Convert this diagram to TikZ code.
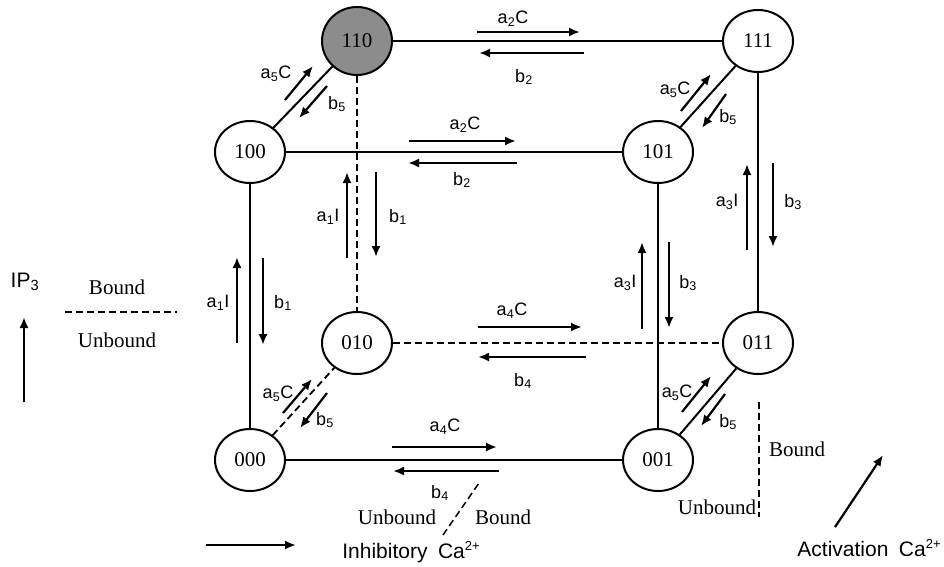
\documentclass[tikz,border=0pt]{standalone}
\usepackage{fontspec}
\setmainfont{Liberation Serif}
\newfontfamily\labfont{Liberation Sans}
\usetikzlibrary{arrows.meta,shapes.geometric}
\definecolor{stategray}{RGB}{140,140,140}
\newcommand\rl[3]{#1\textsubscript{#2}#3}
\newcommand\casup{Ca\raisebox{0.4em}{\fontsize{13}{14}\selectfont 2+}}
\tikzset{
  state/.style={ellipse,draw,line width=2pt,minimum width=70pt,minimum height=62pt,inner sep=0pt,font=\fontsize{21}{24}\selectfont},
  link/.style={line width=2pt},
  dlink/.style={line width=1.8pt,dash pattern=on 7pt off 4pt},
  rate/.style={line width=2.2pt,-{Latex[length=11pt,width=9pt]}},
  lab/.style={inner sep=0pt,font=\labfont\fontsize{18}{20}\selectfont},
  ser/.style={inner sep=0pt,font=\fontsize{21}{24}\selectfont},
  leg/.style={inner sep=0pt,font=\labfont\fontsize{21}{24}\selectfont},
}
\begin{document}
\begin{tikzpicture}[x=1pt,y=-1pt]
\useasboundingbox (0,0) rectangle (944,566);
% states
\node[state,fill=stategray,minimum height=68pt] (s110) at (357,41) {110};
\node[state] (s111) at (758,41) {111};
\node[state] (s100) at (250,152) {100};
\node[state] (s101) at (658,152) {101};
\node[state] (s010) at (357,343) {010};
\node[state] (s011) at (758,343) {011};
\node[state] (s000) at (250,460) {000};
\node[state] (s001) at (658,460) {001};
% edges
\draw[link] (s110) -- (s111);
\draw[link] (s100) -- (s101);
\draw[dlink] (s010) -- (s011);
\draw[link] (s000) -- (s001);
\draw[link] (s100) -- (s000);
\draw[dlink] (s110) -- (s010);
\draw[link] (s101) -- (s001);
\draw[link] (s111) -- (s011);
\draw[link] (s100) -- (s110);
\draw[link] (s101) -- (s111);
\draw[dlink] (s000) -- (s010);
\draw[link] (s001) -- (s011);
% rate arrows: horizontal
\draw[rate] (477,32) -- (580,32);
\draw[rate] (584,53) -- (479,53);
\draw[rate] (409,141) -- (516,141);
\draw[rate] (517,163) -- (408,163);
\draw[rate] (478,327) -- (582,327);
\draw[rate] (586,357) -- (478,357);
\draw[rate] (392,447) -- (497,447);
\draw[rate] (499,471) -- (393,471);
% vertical
\draw[rate] (237,343) -- (237,257);
\draw[rate] (263,258) -- (263,345);
\draw[rate] (347,258) -- (347,172);
\draw[rate] (376,172) -- (376,257);
\draw[rate] (642,329) -- (642,242);
\draw[rate] (669,242) -- (669,328);
\draw[rate] (747,250) -- (747,164);
\draw[rate] (773,163) -- (773,247);
% diagonal
\draw[rate] (285,100) -- (313,66);
\draw[rate] (327,86) -- (299,118);
\draw[rate] (681,111) -- (711,74);
\draw[rate] (726,94) -- (702,128);
\draw[rate] (283,413) -- (312,379);
\draw[rate] (327,393) -- (300,428);
\draw[rate] (682,412) -- (711,376);
\draw[rate] (725,394) -- (701,426);
% rate labels
\node[lab] (l1) at (513,19) {\rl{a}{2}{C}};
\node[lab] (l2) at (524,77) {\rl{b}{2}{}};
\node[lab] (l3) at (465,125) {\rl{a}{2}{C}};
\node[lab] (l4) at (462,180) {\rl{b}{2}{}};
\node[lab] (l5) at (512,311) {\rl{a}{4}{C}};
\node[lab] (l6) at (523,381) {\rl{b}{4}{}};
\node[lab] (l7) at (445,427) {\rl{a}{4}{C}};
\node[lab] (l8) at (440,493) {\rl{b}{4}{}};
\node[lab] (l9) at (218,303) {\rl{a}{1}{I}};
\node[lab] (l10) at (283,303) {\rl{b}{1}{}};
\node[lab] (l11) at (328,217) {\rl{a}{1}{I}};
\node[lab] (l12) at (398,217) {\rl{b}{1}{}};
\node[lab] (l13) at (625,283) {\rl{a}{3}{I}};
\node[lab] (l14) at (688,283) {\rl{b}{3}{}};
\node[lab] (l15) at (727,202) {\rl{a}{3}{I}};
\node[lab] (l16) at (793,202) {\rl{b}{3}{}};
\node[lab] (l17) at (276,74) {\rl{a}{5}{C}};
\node[lab] (l18) at (337,104) {\rl{b}{5}{}};
\node[lab] (l19) at (675,90) {\rl{a}{5}{C}};
\node[lab] (l20) at (728,117) {\rl{b}{5}{}};
\node[lab] (l21) at (278,394) {\rl{a}{5}{C}};
\node[lab] (l22) at (325,420) {\rl{b}{5}{}};
\node[lab] (l23) at (677,393) {\rl{a}{5}{C}};
\node[lab] (l24) at (728,422) {\rl{b}{5}{}};
% legend left
\node[leg] (ip3) at (25,282) {IP\textsubscript{3}};
\coordinate (ipa) at (24,402);
\coordinate (ipb) at (24,317);
\draw[rate] (ipa) -- (ipb);
\node[ser] (lb1) at (117,287) {Bound};
\node[ser] (lu1) at (117,340) {Unbound};
\coordinate (d1a) at (65,312);
\coordinate (d1b) at (177,312);
\draw[dlink,line width=1.5pt] (d1a) -- (d1b);
% legend bottom
\coordinate (ia) at (206,545);
\coordinate (ib) at (296,545);
\draw[rate] (ia) -- (ib);
\node[leg] (inh) at (411,552) {Inhibitory\hspace{0.5em}\casup};
\node[ser] (lu2) at (397,517) {Unbound};
\node[ser] (lb2) at (503,517) {Bound};
\coordinate (d2a) at (443,535);
\coordinate (d2b) at (479,483);
\draw[dlink,line width=1.5pt] (d2a) -- (d2b);
% legend right
\coordinate (d3a) at (759,402);
\coordinate (d3b) at (759,517);
\draw[dlink,line width=1.5pt] (d3a) -- (d3b);
\node[ser] (lb3) at (797,449) {Bound};
\node[ser] (lu3) at (717,507) {Unbound};
\coordinate (aa) at (835,527);
\coordinate (ab) at (883,455);
\draw[rate] (aa) -- (ab);
\node[leg] (act) at (869,548) {Activation\hspace{0.5em}\casup};
\end{tikzpicture}
\end{document}
